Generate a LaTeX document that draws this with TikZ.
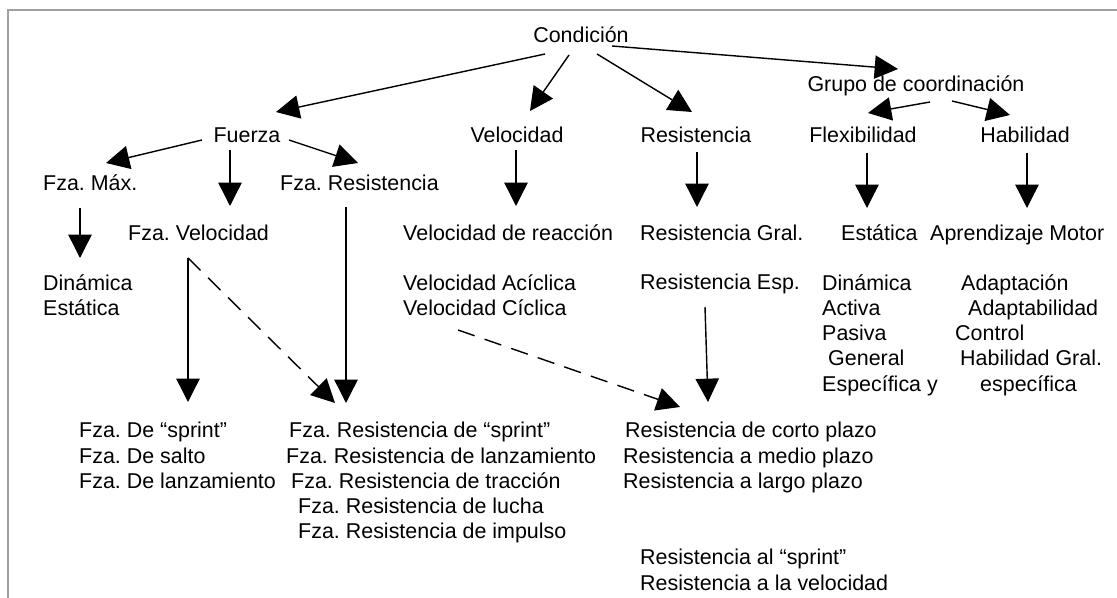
\documentclass[tikz,border=0pt]{standalone}
\usepackage{fontspec}
\setmainfont{Liberation Sans}
\usepackage{xcolor}
\usepackage{tikz}
\usetikzlibrary{arrows.meta}
\definecolor{framegray}{HTML}{A0A0A0}
\frenchspacing

\begin{document}
\begin{tikzpicture}[x=0.03cm, y=-0.03cm,
    every node/.style={inner sep=0pt, font=\fontsize{18.3}{21.6}\selectfont},
    lst/.style={anchor=north west, align=left},
    arr/.style={-{Triangle[length=7mm, width=7mm]}, line width=1.2pt},
    dasharr/.style={arr, dash pattern=on 15pt off 9pt}]
    % page edge (top and left only)
    \useasboundingbox (0,0) rectangle (1117,598);
    \draw[framegray, line width=1.8pt] (1117,10) -- (8,10) -- (8,598);

    % Top levels
    \node[anchor=base] (cond) at (581,43) {Condición};
    \node[anchor=base] (grupo) at (916,92) {Grupo de coordinación};
    \node[anchor=base] (fuerza) at (247,143) {Fuerza};
    \node[anchor=base] (veloc) at (517,143) {Velocidad};
    \node[anchor=base] (resist) at (696,143) {Resistencia};
    \node[anchor=base] (flex) at (863,143) {Flexibilidad};
    \node[anchor=base] (habil) at (1025,143) {Habilidad};

    % Second and third levels
    \node[anchor=base west] (fzamax) at (43,191) {Fza. Máx.};
    \node[anchor=base west] (fzares) at (280,191) {Fza. Resistencia};
    \node[anchor=base west] (fzavel) at (128,241) {Fza. Velocidad};
    \node[anchor=base west] (velreac) at (403,241) {Velocidad de reacción};
    \node[anchor=base west] (resgral) at (640,241) {Resistencia Gral.};
    \node[anchor=base west] (estat) at (841,241) {Estática};
    \node[anchor=base west] (aprend) at (930,241) {Aprendizaje Motor};
    \node[anchor=base west] (resesp) at (640,290) {Resistencia Esp.};

    % Lists
    \node[lst] (dinest) at (43,274) {Dinámica\\Estática};
    \node[lst] (velcic) at (403,274) {Velocidad Acíclica\\Velocidad Cíclica};
    \node[lst] (flexlist) at (822,274) {Dinámica\\Activa\\Pasiva\\\hspace*{0.18cm}General\\Específica y};
    \node[lst] (hablist) at (955,274) {\hspace*{0.18cm}Adaptación\\\hspace*{0.39cm}Adaptabilidad\\Control\\\hspace*{0.15cm}Habilidad Gral.\\\hspace*{0.75cm}específica};
    \node[lst] (fzade) at (79,422) {Fza. De “sprint”\\Fza. De salto\\Fza. De lanzamiento};
    \node[lst] (fzaresde) at (286,422) {\hspace*{0.09cm}Fza. Resistencia de “sprint”\\Fza. Resistencia de lanzamiento\\\hspace*{0.15cm}Fza. Resistencia de tracción\\\hspace*{0.36cm}Fza. Resistencia de lucha\\\hspace*{0.36cm}Fza. Resistencia de impulso};
    \node[lst] (resplazo) at (623,422) {\hspace*{0.06cm}Resistencia de corto plazo\\Resistencia a medio plazo\\Resistencia a largo plazo};
    \node[lst] (resvel) at (640,549) {Resistencia al “sprint”\\Resistencia a la velocidad};

    % Arrows from the top
    \draw[arr] ([shift={(-36,11)}]cond.base) -- ([shift={(29,-31)}]fuerza.base);
    \draw[arr] ([shift={(-12,12)}]cond.base) -- ([shift={(13,-32)}]veloc.base);
    \draw[arr] ([shift={(16,11)}]cond.base) -- ([shift={(-4,-31)}]resist.base);
    \draw[arr] ([shift={(31,3)}]cond.base) -- ([shift={(-18,-23)}]grupo.base);
    \draw[arr] ([shift={(14,10)}]grupo.base) -- ([shift={(5,-30)}]flex.base);
    \draw[arr] ([shift={(36,9)}]grupo.base) -- ([shift={(-15,-28)}]habil.base);

    % Arrows from Fuerza
    \draw[arr] ([shift={(-45,-3)}]fuerza.base) -- ([shift={(63,-28)}]fzamax.base west);
    \draw[arr] ([shift={(-17,7)}]fuerza.base) -- ([shift={(102,-35)}]fzavel.base west);
    \draw[arr] ([shift={(42,-3)}]fuerza.base) -- ([shift={(78,-28)}]fzares.base west);

    % Straight down
    \draw[arr] ([shift={(-1,7)}]veloc.base) -- ([shift={(113,-35)}]velreac.base west);
    \draw[arr] ([shift={(1,9)}]resist.base) -- ([shift={(57,-34)}]resgral.base west);
    \draw[arr] ([shift={(4,10)}]flex.base) -- ([shift={(26,-33)}]estat.base west);
    \draw[arr] ([shift={(2,10)}]habil.base) -- ([shift={(97,-33)}]aprend.base west);
    \draw[arr] ([shift={(37,17)}]fzamax.base west) -- ([shift={(37,-16)}]dinest.north west);

    % Long arrows to the lower lists
    \draw[arr] ([shift={(60,17)}]fzavel.base west) -- ([shift={(109,-20)}]fzade.north west);
    \draw[dasharr] ([shift={(60,17)}]fzavel.base west) -- ([shift={(49,-19)}]fzaresde.north west);
    \draw[arr] ([shift={(66,16)}]fzares.base west) -- ([shift={(60,-19)}]fzaresde.north west);
    \draw[dasharr] ([shift={(55,56)}]velcic.north west) -- ([shift={(57,-15)}]resplazo.north west);
    \draw[arr] ([shift={(65,17)}]resesp.base west) -- ([shift={(85,-20)}]resplazo.north west);
\end{tikzpicture}
\end{document}
